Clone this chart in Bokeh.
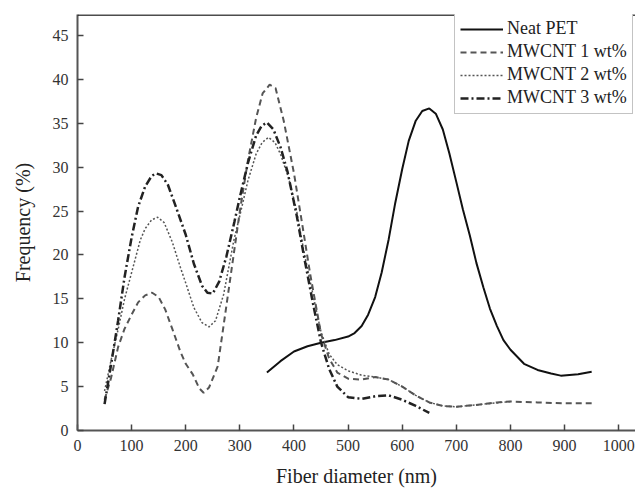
from bokeh.plotting import figure
from bokeh.models import Range1d, Span, Legend, LegendItem, FixedTicker
from bokeh.embed import file_html
from bokeh.resources import INLINE

# Neat PET
pet_x = [350, 375, 400, 425, 450, 475, 500, 512, 525, 537, 550, 562, 575, 587, 600, 612, 625, 637, 650, 662, 675, 687, 700, 712, 725, 737, 750, 762, 775, 787, 800, 825, 850, 875, 893, 925, 950]
pet_y = [6.6, 7.9, 9.0, 9.6, 10.0, 10.3, 10.7, 11.1, 11.9, 13.2, 15.2, 18.0, 21.8, 25.9, 29.8, 33.0, 35.3, 36.4, 36.7, 36.1, 34.3, 31.6, 28.3, 25.2, 22.2, 19.1, 16.3, 13.9, 11.9, 10.3, 9.2, 7.6, 6.9, 6.5, 6.25, 6.4, 6.7]

# MWCNT 1 wt%
m1_x = [50, 62, 75, 87, 100, 112, 125, 138, 150, 162, 175, 190, 200, 213, 225, 233, 243, 259, 270, 285, 300, 315, 330, 342, 355, 366, 381, 400, 416, 430, 450, 465, 480, 500, 525, 550, 575, 600, 625, 650, 675, 700, 725, 750, 775, 800, 850, 900, 950]
m1_y = [3.5, 6.0, 9.5, 11.6, 13.2, 14.6, 15.4, 15.7, 15.2, 13.8, 11.6, 9.0, 7.6, 6.4, 4.8, 4.3, 4.9, 7.3, 12.0, 18.5, 25.0, 30.8, 35.6, 38.4, 39.4, 39.0, 35.3, 29.3, 23.2, 17.8, 11.0, 8.2, 6.6, 5.9, 5.8, 6.1, 5.8, 5.0, 4.0, 3.2, 2.8, 2.7, 2.85, 3.0, 3.2, 3.3, 3.2, 3.1, 3.1]

# MWCNT 2 wt%
m2_x = [50, 62, 75, 87, 100, 116, 125, 137, 148, 160, 175, 190, 200, 215, 230, 243, 255, 270, 289, 300, 315, 330, 341, 353, 365, 375, 390, 405, 418, 435, 450, 465, 480, 500, 525, 550, 575, 600, 625, 650, 675, 700, 750, 800]
m2_y = [4.5, 8.0, 11.5, 15.0, 18.0, 21.7, 23.0, 24.0, 24.3, 23.7, 21.5, 18.6, 16.8, 14.0, 12.3, 11.8, 12.5, 15.5, 21.7, 24.5, 28.5, 31.5, 32.8, 33.4, 32.8, 31.5, 28.8, 25.0, 20.5, 15.5, 11.2, 8.7, 7.5, 6.8, 6.3, 6.1, 5.8, 5.0, 4.0, 3.2, 2.8, 2.7, 3.0, 3.3]

# MWCNT 3 wt%
m3_x = [50, 62, 75, 87, 100, 112, 125, 137, 145, 155, 167, 180, 200, 215, 230, 240, 250, 262, 275, 290, 300, 315, 330, 340, 350, 362, 375, 388, 405, 418, 435, 450, 465, 480, 500, 525, 550, 575, 600, 625, 650]
m3_y = [3.0, 7.5, 12.5, 17.5, 22.0, 25.5, 27.8, 29.0, 29.3, 29.1, 28.0, 25.8, 22.3, 19.0, 16.5, 15.7, 15.6, 17.0, 19.8, 23.8, 26.6, 30.5, 33.6, 34.7, 35.1, 34.3, 32.3, 29.5, 24.5, 20.0, 14.5, 10.0, 7.0, 5.0, 3.8, 3.6, 3.9, 4.0, 3.5, 2.8, 2.0]

x_ticks = [0, 100, 200, 300, 400, 500, 600, 700, 800, 900, 1000]
y_ticks = [0, 5, 10, 15, 20, 25, 30, 35, 40, 45]

FONT = "Liberation Serif"

p = figure(width=635, height=489, output_backend="svg", toolbar_location=None,
           x_range=Range1d(0, 1031), y_range=Range1d(0, 47.4),
           min_border_left=77, min_border_right=0, min_border_top=14, min_border_bottom=58)
p.outline_line_color = None
p.xgrid.visible = False
p.ygrid.visible = False
p.background_fill_color = "white"

for ax in (p.xaxis[0], p.yaxis[0]):
    ax.axis_line_color = "#555555"
    ax.axis_line_width = 2
    ax.major_tick_line_color = "#444444"
    ax.major_tick_line_width = 1.5
    ax.major_tick_in = 6
    ax.major_tick_out = 0
    ax.minor_tick_line_color = None
    ax.major_label_text_font = FONT
    ax.major_label_text_font_size = "16px"
    ax.major_label_text_color = "#333333"
    ax.axis_label_text_font = FONT
    ax.axis_label_text_font_size = "20px"
    ax.axis_label_text_font_style = "normal"
    ax.axis_label_text_color = "#222222"

p.xaxis[0].ticker = FixedTicker(ticks=x_ticks)
p.yaxis[0].ticker = FixedTicker(ticks=y_ticks)
p.xaxis[0].major_label_standoff = 9
p.yaxis[0].major_label_standoff = 9
p.xaxis[0].axis_label = "Fiber diameter (nm)"
p.yaxis[0].axis_label = "Frequency (%)"
p.xaxis[0].axis_label_standoff = 11
p.yaxis[0].axis_label_standoff = 16

top = Span(location=47.35, dimension="width", line_color="#111111", line_width=1.5)
p.add_layout(top)

r0 = p.line(pet_x, pet_y, line_color="#111111", line_width=2)
r1 = p.line(m1_x, m1_y, line_color="#555555", line_width=2, line_dash="6 4")
r2 = p.line(m2_x, m2_y, line_color="#555555", line_width=1.5, line_dash="2 2")
r3 = p.line(m3_x, m3_y, line_color="#222222", line_width=2.5, line_dash="8 3 2 3")

legend = Legend(items=[
    LegendItem(label="Neat PET", renderers=[r0]),
    LegendItem(label="MWCNT 1 wt%", renderers=[r1]),
    LegendItem(label="MWCNT 2 wt%", renderers=[r2]),
    LegendItem(label="MWCNT 3 wt%", renderers=[r3]),
], location=(377, 316))
legend.label_text_font = FONT
legend.label_text_font_size = "18px"
legend.label_text_color = "#222222"
legend.glyph_width = 43
legend.glyph_height = 20
legend.label_standoff = 4
legend.label_height = 20
legend.spacing = 2
legend.padding = 5
legend.margin = 0
legend.border_line_color = "#888888"
legend.border_line_width = 1
legend.background_fill_alpha = 1
p.add_layout(legend)

open("out.html", "w").write(file_html(p, INLINE))
